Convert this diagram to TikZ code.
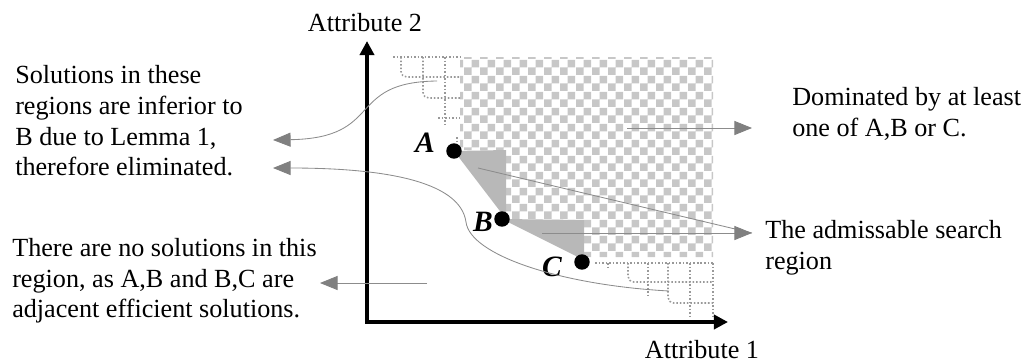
\documentclass[tikz,border=0pt]{standalone}
\usepackage{fontspec}
\setmainfont{Liberation Serif}
\usetikzlibrary{arrows.meta, patterns}

\begin{document}
\begin{tikzpicture}[
  x=0.025cm, y=-0.025cm,
  font=\fontsize{18.6}{21.8}\selectfont,
  axis/.style={line width=3pt,
               {Triangle[length=10pt, width=10pt]}-{Triangle[length=10pt, width=10pt]}},
  note/.style={align=left, anchor=west, inner sep=0pt},
  lbl/.style={font=\fontsize{21}{24}\selectfont\bfseries\itshape, inner sep=0pt},
  pointer/.style={draw=black!45, line width=0.6pt,
                  -{Triangle[length=12.5pt, width=10pt, color=black!50, fill=black!50]}},
  guide/.style={draw=black!45, line width=0.6pt},
  admfill/.style={fill=black!28},
  subgrid/.style={draw=black!40, line width=1.1pt, dash pattern=on 1.1pt off 1.4pt}
]
\useasboundingbox (0,0) rectangle (1032,363);

%% ---- points ----
\coordinate (A) at (454,151);
\coordinate (B) at (502,219);
\coordinate (C) at (582,262);

%% ---- dominated region ----
\fill[pattern=checkerboard, pattern color=black!22]
  (460,57) -- (713,57) -- (713,257) -- (584,257) -- (584,220)
  -- (506,220) -- (506,150) -- (460,150) -- cycle;

%% ---- admissable region ----
\fill[admfill] (A) -- (506,150) -- (506,219) -- cycle;
\fill[admfill] (B) -- (584,220) -- (584,260) -- cycle;

%% ---- regions eliminated by Lemma 1 ----
\draw[subgrid] (393,57) -- (460,57);
\draw[subgrid, rounded corners=4pt] (401,57) |- (460,77);
\draw[subgrid, rounded corners=4pt] (423,57) |- (460,98);
\draw[subgrid] (438,118) -- (460,118);
\draw[subgrid] (445,57) -- (445,127);
\draw[subgrid] (457,137) -- (457,143);

\draw[subgrid] (595,263) -- (713,263);
\draw[subgrid] (608,263) -- (608,269);
\draw[subgrid, rounded corners=4pt] (628,263) |- (713,282);
\draw[subgrid] (648,263) -- (648,295);
\draw[subgrid, rounded corners=4pt] (668,263) |- (713,303);
\draw[subgrid] (690,263) -- (690,317);
\draw[subgrid] (713,263) -- (713,317);

%% ---- axes ----
\coordinate (O) at (367,322);
\coordinate (ytip) at (367,41);
\coordinate (xtip) at (728,322);
\draw[axis] (ytip) -- (O) -- (xtip);
\node (ylabel) at (365,23) {Attribute 2};
\node (xlabel) at (702,350) {Attribute 1};

%% ---- efficient solutions ----
\fill (A) circle[radius=5.5pt];
\fill (B) circle[radius=5.5pt];
\fill (C) circle[radius=5.5pt];
\node[lbl] (labA) at (425,143) {A};
\node[lbl] (labB) at (483,222) {B};
\node[lbl] (labC) at (552,267) {C};

%% ---- notes ----
\node[note] (inferior) at (15,121)
  {Solutions in these\\regions are inferior to\\B due to Lemma 1,\\therefore eliminated.};
\node[note] (nosol) at (12,281)
  {There are no solutions in this\\region, as A,B and B,C are\\adjacent efficient solutions.};
\node[note] (dominated) at (792,114) {Dominated by at least\\one of A,B or C.};
\node[note] (admiss) at (765,248) {The admissable search\\region};

%% ---- pointers ----
\coordinate (infStart) at (437,81);
\coordinate (infTip) at (273,140);
\draw[pointer] (infStart) .. controls (345,82) and (385,138) .. (infTip);

\coordinate (elimStart) at (669,291);
\coordinate (elimTip) at (273,168);
\draw[pointer] (elimStart) .. controls (560,285) and (470,255) .. (466,222)
  .. controls (460,180) and (380,168) .. (elimTip);

\coordinate (noStart) at (427,283);
\coordinate (noTip) at (320,283);
\draw[pointer] (noStart) -- (noTip);

\coordinate (domStart) at (627,128);
\coordinate (domTip) at (752,128);
\draw[pointer] (domStart) -- (domTip);

\coordinate (admStartA) at (478,168);
\coordinate (admStartB) at (542,233);
\coordinate (admTip) at (752,233);
\draw[guide] (admStartA) -- (admTip);
\draw[pointer] (admStartB) -- (admTip);

\end{tikzpicture}
\end{document}
